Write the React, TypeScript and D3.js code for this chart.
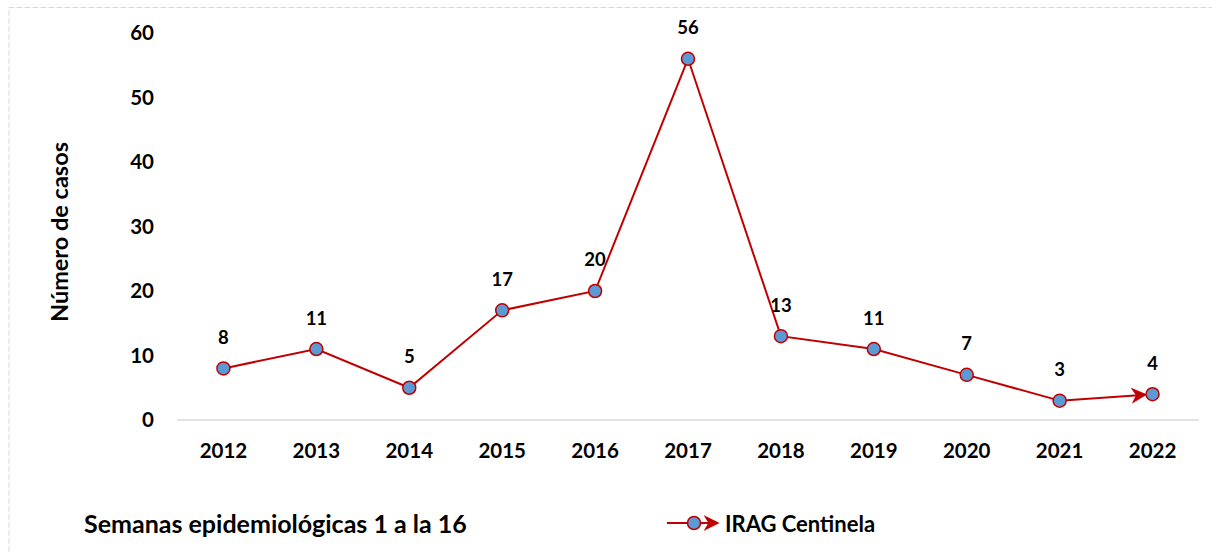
import React from 'react';
import * as d3 from 'd3';

const width = 1212;
const height = 552;
const margin = { top: 33, right: 13, bottom: 132, left: 177 };

const years = ['2012', '2013', '2014', '2015', '2016', '2017', '2018', '2019', '2020', '2021', '2022'];
const cases = [8, 11, 5, 17, 20, 56, 13, 11, 7, 3, 4];
const yTicks = [0, 10, 20, 30, 40, 50, 60];

const font = 'Lato, "Open Sans", sans-serif';
const lineColor = '#C00000';
const dotColor = '#5B9BD5';

const App = () => {
	const x = d3
		.scalePoint<string>()
		.domain(years)
		.range([margin.left, width - margin.right])
		.padding(0.5);
	const y = d3
		.scaleLinear()
		.domain([0, 60])
		.range([height - margin.bottom, margin.top]);

	const line = d3
		.line<number>()
		.x((d, i) => x(years[i]) as number)
		.y(d => y(d));

	const pts = cases.map((d, i) => ({ x: x(years[i]) as number, y: y(d), v: d }));
	// last segment drawn again, stopping at the circle edge, to carry the arrow
	const n = pts.length;
	const a = pts[n - 2];
	const b = pts[n - 1];
	const len = Math.hypot(b.x - a.x, b.y - a.y);
	const path = line(cases.slice(0, n - 1)) as string;

	return (
		<svg
			width={width}
			height={height}
			style={{ position: 'absolute', left: 0, top: 0, background: '#fff' }}
			fontFamily={font}
			fontWeight="bold"
		>
			<defs>
				<marker id="arrowBig" viewBox="0 0 10 10" refX="9" refY="5" markerWidth="16" markerHeight="16" orient="auto" markerUnits="userSpaceOnUse">
					<path d="M0,0 L10,5 L0,10 L3,5 Z" fill={lineColor} />
				</marker>
			</defs>
			<path
				d={`M9,${height} V7.5 H${width}`}
				fill="none"
				stroke="#d9d9d9"
				strokeDasharray="6,2"
				strokeWidth={1}
			/>
			<line
				x1={margin.left}
				x2={width - margin.right}
				y1={y(0)}
				y2={y(0)}
				stroke="#d9d9d9"
				strokeWidth={1.5}
			/>
			{yTicks.map(t => (
				<text key={t} x={154} y={y(t)} dy="0.35em" textAnchor="end" fontSize={20.5} fill="#000">
					{t}
				</text>
			))}
			{years.map(yr => (
				<text key={yr} x={x(yr) as number} y={451} dy="0.35em" textAnchor="middle" fontSize={20.5} fill="#000">
					{yr}
				</text>
			))}
			<text
				transform={`translate(60,${232}) rotate(-90)`}
				textAnchor="middle"
				dy="0.35em"
				fontSize={23.5}
				fill="#000"
			>
				Número de casos
			</text>
			<path d={path} fill="none" stroke={lineColor} strokeWidth={2} />
			<line
				x1={a.x}
				y1={a.y}
				x2={b.x - ((b.x - a.x) / len) * 7}
				y2={b.y - ((b.y - a.y) / len) * 7}
				stroke={lineColor}
				strokeWidth={2}
				markerEnd="url(#arrowBig)"
			/>
			{pts.map((p, i) => (
				<circle key={i} cx={p.x} cy={p.y} r={6.5} fill={dotColor} stroke={lineColor} strokeWidth={1.5} />
			))}
			{pts.map((p, i) => (
				<text key={'l' + i} x={p.x} y={p.y - 31} dy="0.35em" textAnchor="middle" fontSize={18.5} fill="#000">
					{p.v}
				</text>
			))}
			<text x={84} y={524} dy="0.35em" fontSize={25} fill="#000">
				Semanas epidemiológicas 1 a la 16
			</text>
			<g>
				<line x1={667} x2={718} y1={523} y2={523} stroke={lineColor} strokeWidth={2} markerEnd="url(#arrowBig)" />
				<circle cx={694} cy={523} r={6.5} fill={dotColor} stroke={lineColor} strokeWidth={1.5} />
				<text x={725} y={524} dy="0.35em" fontSize={22} fill="#000">
					IRAG Centinela
				</text>
			</g>
		</svg>
	);
};

export default App;
